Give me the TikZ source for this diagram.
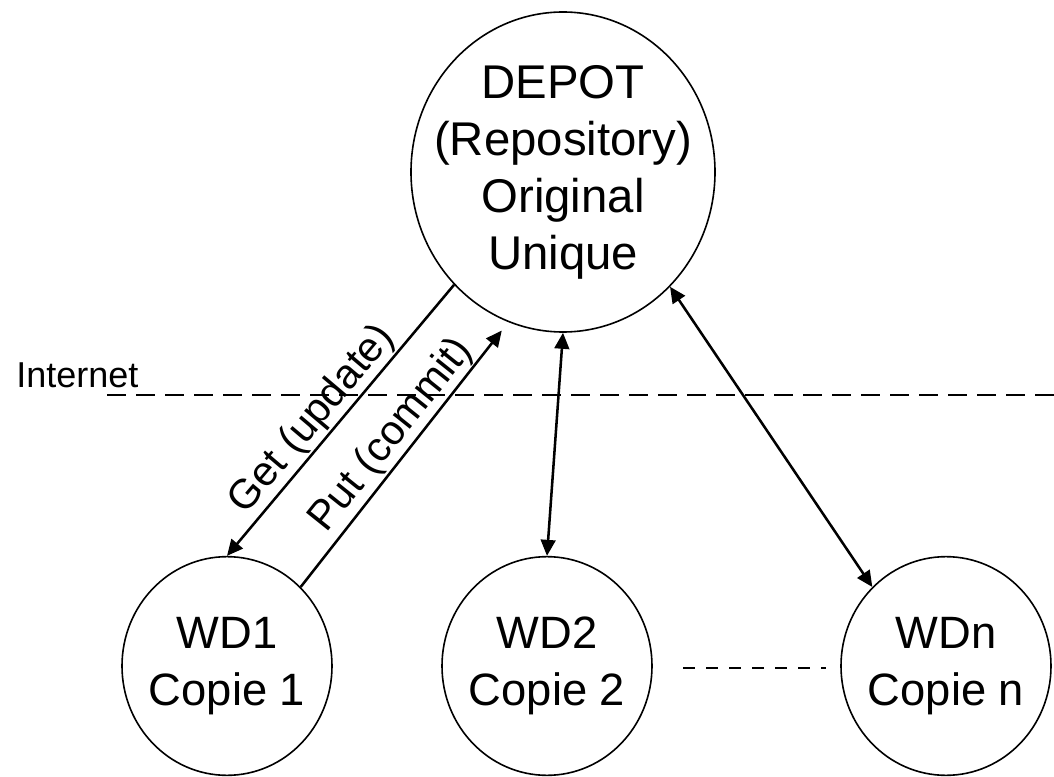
\documentclass[tikz,border=0pt]{standalone}
\usepackage{fontspec}
\setmainfont{Liberation Sans}
\usetikzlibrary{shapes.geometric,arrows.meta}
\begin{document}
\begin{tikzpicture}[x=0.75pt,y=-0.75pt,
  bubble/.style={ellipse, draw, line width=1.2pt, inner sep=0pt},
  bigtext/.style={align=center, font=\fontsize{35.5}{42.75}\selectfont, inner sep=0pt},
  smalltext/.style={align=center, font=\fontsize{34}{42.75}\selectfont, inner sep=0pt},
  conn/.style={line width=1.9pt, -{Triangle[length=12pt,width=11pt]}},
  dconn/.style={line width=1.9pt, {Triangle[length=12pt,width=11pt]}-{Triangle[length=12pt,width=11pt]}},
  lbl/.style={font=\fontsize{31}{34}\selectfont, inner sep=1pt},
  netlbl/.style={font=\fontsize{27}{30}\selectfont, inner sep=0pt}]
\useasboundingbox (0,0) rectangle (1054,777);
% nodes
\node[bubble, minimum width=228pt, minimum height=240pt] (depot) at (563,172) {};
\node[bigtext] (depottext) at (depot.center) {DEPOT\\(Repository)\\Original\\Unique};
\node[bubble, minimum width=157.5pt, minimum height=164pt] (wd1) at (227,666) {};
\node[smalltext] (wd1text) at (wd1.center) {WD1\\Copie 1};
\node[bubble, minimum width=157.5pt, minimum height=164pt] (wd2) at (547,666) {};
\node[smalltext] (wd2text) at (wd2.center) {WD2\\Copie 2};
\node[bubble, minimum width=157.5pt, minimum height=164pt] (wdn) at (946,666) {};
\node[smalltext] (wdntext) at (wdn.center) {WDn\\Copie n};
% internet
\node[netlbl, anchor=base west] (inet) at (16,388) {Internet};
\coordinate (netA) at (107,395);
\coordinate (netB) at (1054,395);
\draw[line width=1.6pt, dash pattern=on 14.25pt off 7.5pt] (netA) -- (netB);
% connectors
\draw[conn] (depot.226) -- (wd1.north)
  node[lbl, pos=0.55, anchor=south, rotate=49.7] (getlbl) {Get (update)};
\draw[conn, shorten >=8pt] (wd1.47) -- (depot.250)
  node[lbl, pos=0.52, anchor=south, rotate=51.3] (putlbl) {Put (commit)};
\draw[dconn] (depot.270) -- (wd2.north);
\draw[dconn] (depot.313) -- (wdn.133);
% dots between copies
\coordinate (dotA) at (683,668);
\coordinate (dotB) at (826,668);
\draw[line width=1.9pt, dash pattern=on 9pt off 8.25pt] (dotA) -- (dotB);
\end{tikzpicture}
\end{document}
